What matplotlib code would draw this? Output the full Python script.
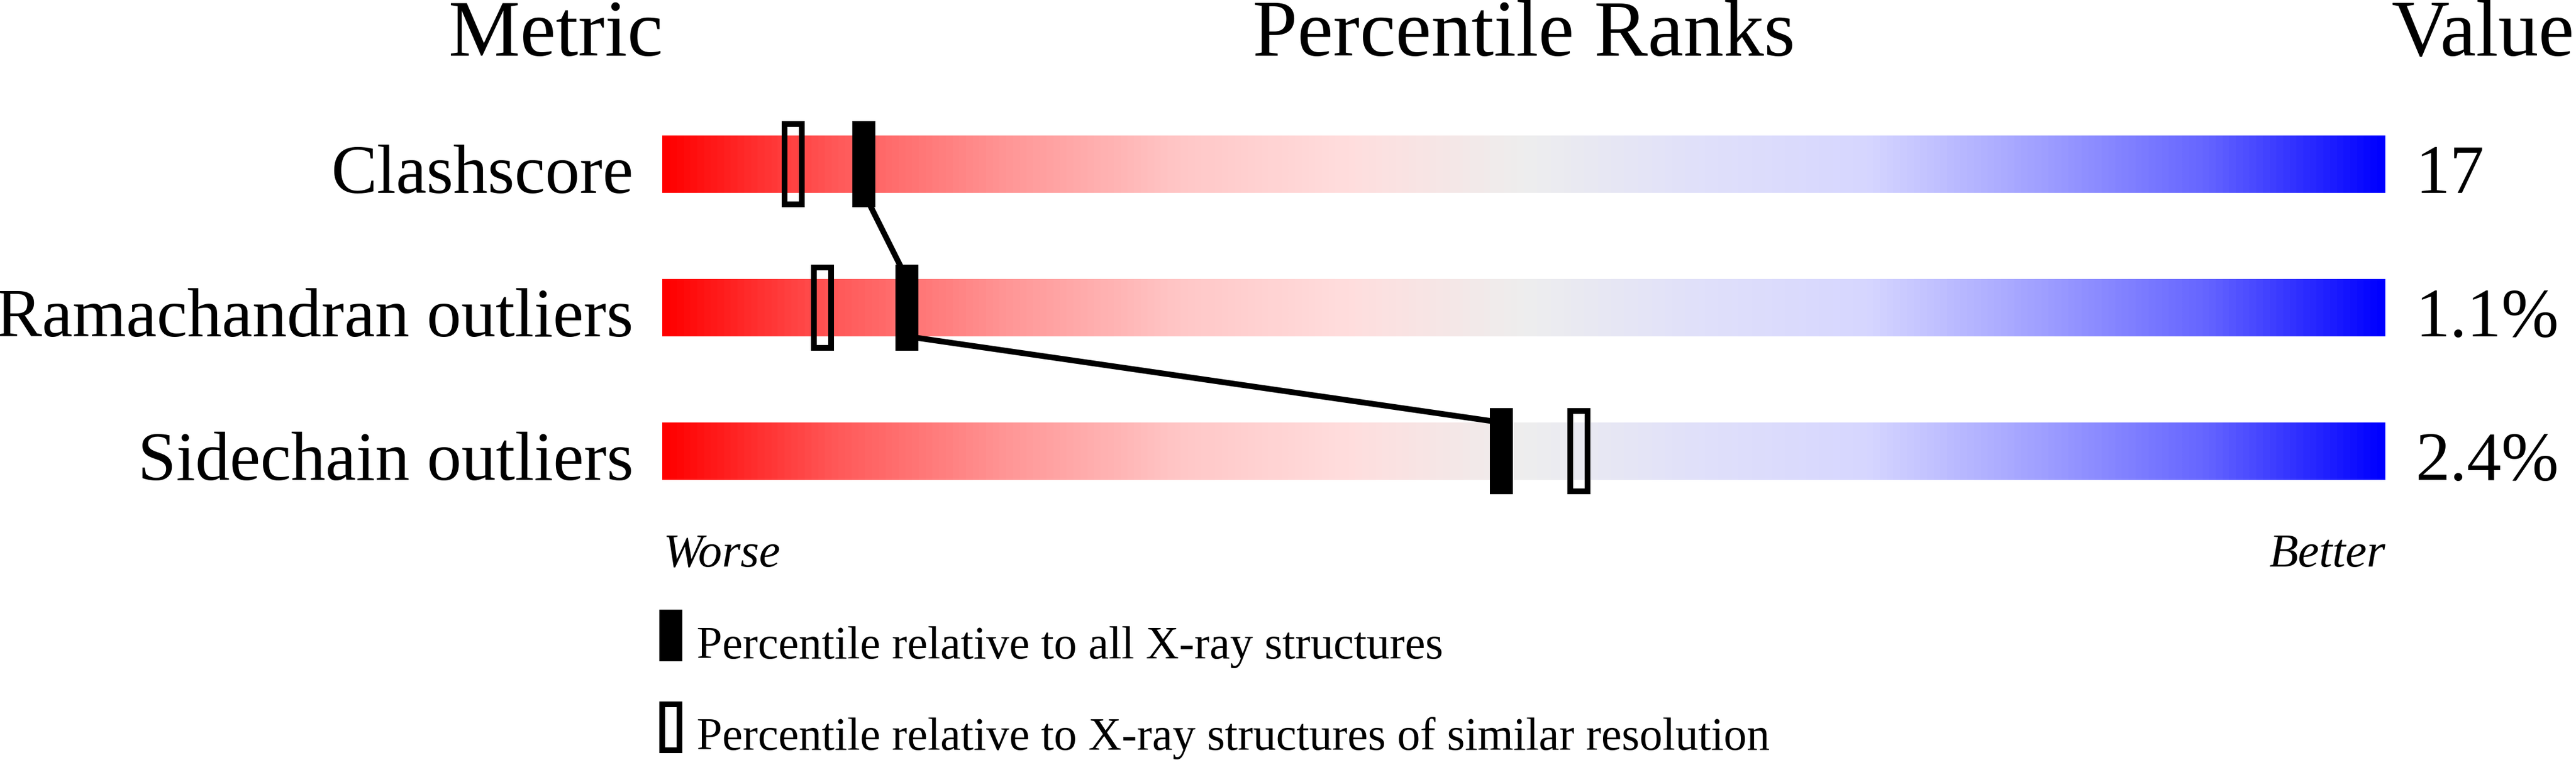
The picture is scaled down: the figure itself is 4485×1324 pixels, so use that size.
import matplotlib
matplotlib.use('Agg')
import matplotlib.pyplot as plt
import numpy as np
from matplotlib.colors import LinearSegmentedColormap
from matplotlib.patches import Rectangle

# data
metrics = ['Clashscore', 'Ramachandran outliers', 'Sidechain outliers']
values = ['17', '1.1%', '2.4%']
pct_all = [11.7, 14.2, 48.7]       # percentile vs all X-ray structures
pct_similar = [7.6, 9.3, 53.2]     # percentile vs similar resolution
legend_labels = ['Percentile relative to all X-ray structures',
                 'Percentile relative to X-ray structures of similar resolution']

W, H = 4485, 1324
SERIF = 'Liberation Serif'
PX = 72 / 100  # px -> pt at dpi 100

slider = LinearSegmentedColormap.from_list('slider', [
    (0.0, (1.0, 0.0, 0.0)),
    (0.1, (1.0, 0.35, 0.35)),
    (0.2, (1.0, 0.59, 0.59)),
    (0.3, (1.0, 0.78, 0.78)),
    (0.4, (1.0, 0.87, 0.87)),
    (0.5, (0.933, 0.933, 0.933)),
    (0.6, (0.88, 0.88, 0.98)),
    (0.7, (0.84, 0.84, 1.0)),
    (0.8, (0.63, 0.63, 1.0)),
    (0.9, (0.39, 0.39, 1.0)),
    (1.0, (0.0, 0.0, 1.0)),
])

fig = plt.figure(figsize=(W / 100, H / 100), dpi=100)

# slider axes: x in percentile, one row per metric (250 px per row)
ax = fig.add_axes([1153 / W, (H - 861) / H, 3000 / W, 650 / H])
ax.set_xlim(0, 100)
ax.set_ylim(2.3, -0.3)
ax.axis('off')

px_x = 100 / 3000   # percent per pixel
bar_h = 0.4
mark_h = 0.6
mark_w = 40 * px_x
stroke = 10 * px_x

grad = np.linspace(0, 1, 600).reshape(1, -1)
for r in range(len(metrics)):
    ax.imshow(grad, cmap=slider, aspect='auto', interpolation='bilinear',
              extent=[0, 100, r + bar_h / 2, r - bar_h / 2], zorder=1)

# connecting line between the "all structures" markers
for r in range(len(metrics) - 1):
    ax.plot([pct_all[r], pct_all[r + 1]], [r + bar_h / 2, r + 1 - bar_h / 2],
            color='black', lw=10 * PX, solid_capstyle='butt', zorder=2)

for r in range(len(metrics)):
    ax.add_patch(Rectangle((pct_all[r] - mark_w / 2, r - mark_h / 2), mark_w, mark_h,
                           facecolor='black', edgecolor='none', zorder=3))
    ax.add_patch(Rectangle((pct_similar[r] - (mark_w - stroke) / 2, r - mark_h / 2 + 0.02),
                           mark_w - stroke, mark_h - 0.04,
                           facecolor='none', edgecolor='black', lw=10 * PX,
                           joinstyle='miter', zorder=3))

# overlay in pixel coords for headings, labels and legend
ov = fig.add_axes([0, 0, 1, 1], zorder=-1)
ov.set_xlim(0, W)
ov.set_ylim(H, 0)
ov.axis('off')

head = 140 * PX
lab = 120 * PX
small = 83 * PX
leg = 80 * PX
ov.text(968, 97, 'Metric', ha='center', va='baseline', fontsize=head, family=SERIF)
ov.text(2653, 97, 'Percentile Ranks', ha='center', va='baseline', fontsize=head, family=SERIF)
ov.text(4482, 97, 'Value', ha='right', va='baseline', fontsize=head, family=SERIF)

for r, (m, v) in enumerate(zip(metrics, values)):
    base = 336 + 250 * r
    ov.text(1103, base, m, ha='right', va='baseline', fontsize=lab, family=SERIF)
    ov.text(4206, base, v, ha='left', va='baseline', fontsize=lab, family=SERIF)

ov.text(1155, 987, 'Worse', ha='left', va='baseline', fontsize=small,
        family=SERIF, style='italic')
ov.text(4153, 987, 'Better', ha='right', va='baseline', fontsize=small,
        family=SERIF, style='italic')

ov.add_patch(Rectangle((1148, 1062), 40, 90, facecolor='black', edgecolor='none'))
ov.add_patch(Rectangle((1153, 1227), 30, 80, facecolor='none', edgecolor='black',
                       lw=10 * PX, joinstyle='miter'))
ov.text(1213, 1147, legend_labels[0], ha='left', va='baseline', fontsize=leg, family=SERIF)
ov.text(1213, 1306, legend_labels[1], ha='left', va='baseline', fontsize=leg, family=SERIF)

fig.savefig('out.png', dpi=100)
